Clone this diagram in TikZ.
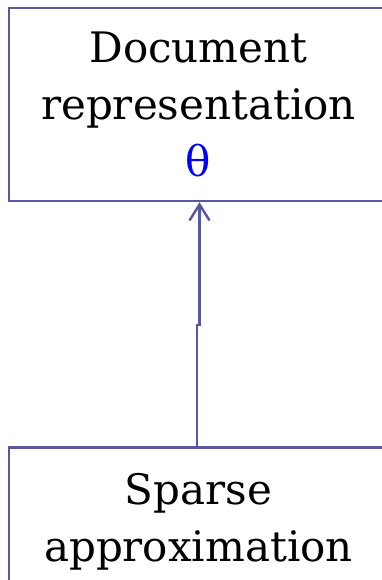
\documentclass[tikz,border=0pt]{standalone}
\usepackage{fontspec}
\setmainfont{DejaVu Serif}
\usetikzlibrary{arrows.meta}
\definecolor{edge}{RGB}{88,89,155}
\definecolor{thetablue}{RGB}{0,0,255}
\tikzset{
  box/.style={draw=edge, line width=2.4pt, fill=white, minimum width=379pt, align=center, inner sep=0pt,
    font=\fontsize{42}{57}\selectfont},
  conn/.style={draw=edge, line width=2.4pt, -{Straight Barb[length=16pt,width=20pt]}}
}
\begin{document}
\begin{tikzpicture}[x=1pt,y=-1pt]
\useasboundingbox (0,0) rectangle (381,580);
\node[box, minimum height=193pt] (top) at (198.5,104.5) {Document\\representation\\\textcolor{thetablue}{θ}};
\node[box, minimum height=148pt] (bot) at (198.5,521.5) {Sparse\\approximation};
\coordinate (j1) at (197,325);
\coordinate (j2) at (199.5,325);
\draw[conn] ([xshift=-1.5pt]bot.north) -- (j1) -- (j2) -- ([xshift=1pt]top.south);
\end{tikzpicture}
\end{document}
